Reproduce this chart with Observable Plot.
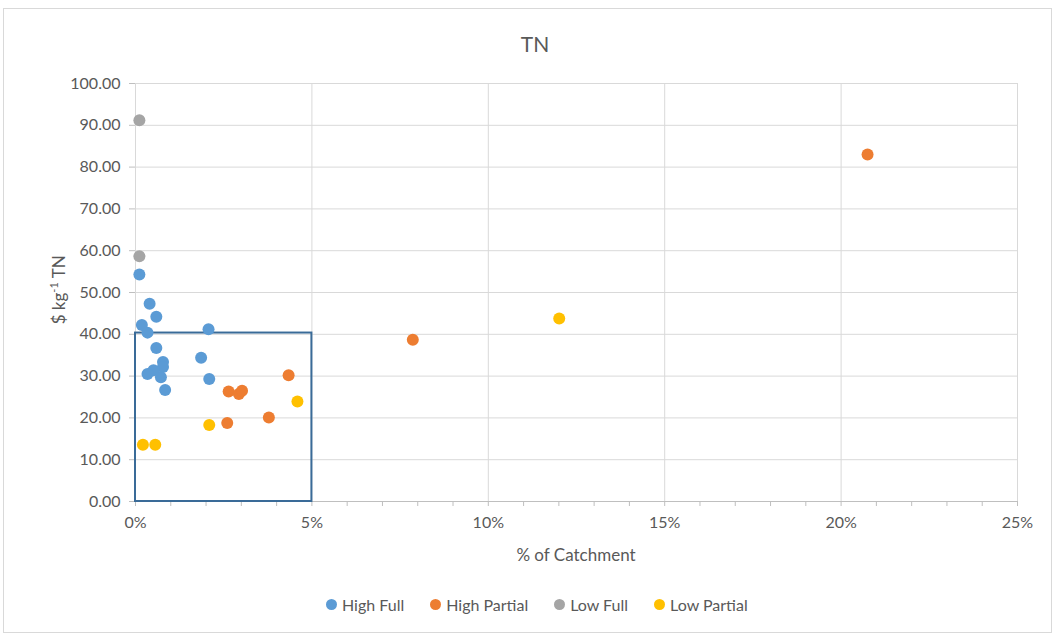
<!DOCTYPE html>
<html><head><meta charset="utf-8">
<script src="https://cdn.jsdelivr.net/npm/d3@7"></script>
<script src="https://cdn.jsdelivr.net/npm/@observablehq/plot@0.6"></script>
<style>
body{margin:0;background:#fff;font-family:Lato,"Open Sans",sans-serif;color:#595959}
#wrap{position:relative;width:1054px;height:635px;overflow:hidden;background:#fff}
#border{position:absolute;left:3px;top:8px;width:1049px;height:625px;border:1px solid #d9d9d9;box-sizing:border-box}
#title{position:absolute;top:31px;left:435px;width:200px;text-align:center;font-size:21px;color:#595959}
#chart{position:absolute;left:0;top:0}
#xlabel{position:absolute;left:476px;width:200px;top:544px;text-align:center;font-size:17px;color:#595959}
#ylabel{position:absolute;left:-42px;width:200px;top:279px;text-align:center;font-size:17px;color:#595959;transform:rotate(-90deg);white-space:nowrap}
#legend{position:absolute;top:595px;left:326px;display:flex;align-items:center;font-size:16px;color:#595959;white-space:nowrap}
#legend .item{display:flex;align-items:center;margin-right:26px}
#legend .sw{display:inline-block;width:11px;height:11px;border-radius:50%;margin-right:5px}
</style>
</head><body>
<div id="wrap">
  <div id="border"></div>
  <div id="chart"></div>
  <div id="title">TN</div>
  <div id="xlabel">% of Catchment</div>
  <div id="ylabel">$ kg<sup style="font-size:11px">-1</sup> TN</div>
  <div id="legend"></div>
</div>
<script>
// ---- data ----
const seriesNames = ["High Full", "High Partial", "Low Full", "Low Partial"];
const seriesColors = ["#5b9bd5", "#ed7d31", "#a5a5a5", "#ffc000"];

const highFullX = [0.11, 0.40, 0.59, 0.18, 0.34, 2.07, 0.59, 1.86, 0.78, 0.78, 0.51, 0.34, 0.72, 2.09, 0.84];
const highFullY = [54.3, 47.3, 44.2, 42.2, 40.4, 41.2, 36.7, 34.4, 33.4, 32.2, 31.4, 30.5, 29.7, 29.3, 26.7];

const highPartialX = [2.64, 2.93, 3.02, 4.34, 2.60, 3.78, 7.86, 20.75];
const highPartialY = [26.3, 25.7, 26.5, 30.2, 18.8, 20.1, 38.7, 83.0];

const lowFullX = [0.11, 0.11];
const lowFullY = [91.2, 58.7];

const lowPartialX = [0.21, 0.56, 2.09, 4.59, 12.01];
const lowPartialY = [13.6, 13.6, 18.3, 23.9, 43.8];

const xTicks = [0, 5, 10, 15, 20, 25];
const xMinorTicks = d3.range(0, 26, 1);
const yTicks = [0, 10, 20, 30, 40, 50, 60, 70, 80, 90, 100];

// highlighted region (% of catchment, $ kg-1 TN)
const boxX = [0, 5];
const boxY = [0, 40.3];

// ---- build table ----
const seriesX = [highFullX, highPartialX, lowFullX, lowPartialX];
const seriesY = [highFullY, highPartialY, lowFullY, lowPartialY];
const points = [];
seriesNames.forEach((name, i) => {
  seriesX[i].forEach((x, j) => points.push({series: name, x, y: seriesY[i][j]}));
});
const box = [{x1: boxX[0], x2: boxX[1], y1: boxY[0], y2: boxY[1]}];

const font = 'Lato, "Open Sans", sans-serif';
const textColor = "#595959";

const chart = Plot.plot({
  width: 1054,
  height: 580,
  marginTop: 83,
  marginBottom: 79,
  marginLeft: 135,
  marginRight: 37,
  style: {fontFamily: font, fontSize: "16px", color: textColor, background: "transparent"},
  x: {domain: [0, 25]},
  y: {domain: [0, 100]},
  color: {domain: seriesNames, range: seriesColors},
  marks: [
    Plot.gridY(yTicks, {stroke: "#d9d9d9", strokeOpacity: 1, strokeWidth: 1}),
    Plot.gridX(xTicks, {stroke: "#d9d9d9", strokeOpacity: 1, strokeWidth: 1}),
    Plot.ruleY([0], {stroke: "#bfbfbf", strokeWidth: 1}),
    Plot.axisX(xMinorTicks, {tickSize: 5, text: null, stroke: "#bfbfbf", strokeOpacity: 1, label: null}),
    Plot.axisX(xTicks, {
      tickSize: 0, tickPadding: 15, tickFormat: d => `${d}%`, fill: textColor,
      label: null, fontSize: 16
    }),
    Plot.axisY(yTicks, {
      tickSize: 6, tickPadding: 9, tickFormat: d => d.toFixed(2), stroke: "#bfbfbf", strokeOpacity: 1,
      fill: textColor, label: null, fontSize: 16
    }),
    Plot.rect(box, {x1: "x1", x2: "x2", y1: "y1", y2: "y2", fill: "none", stroke: "#3a6b98", strokeWidth: 2}),
    Plot.dot(points, {x: "x", y: "y", fill: "series", r: 6, stroke: null})
  ]
});
document.getElementById("chart").appendChild(chart);

// legend
const legend = document.getElementById("legend");
seriesNames.forEach((name, i) => {
  const item = document.createElement("span");
  item.className = "item";
  const sw = document.createElement("span");
  sw.className = "sw";
  sw.style.background = seriesColors[i];
  item.appendChild(sw);
  item.appendChild(document.createTextNode(name));
  legend.appendChild(item);
});
</script>
</body></html>
